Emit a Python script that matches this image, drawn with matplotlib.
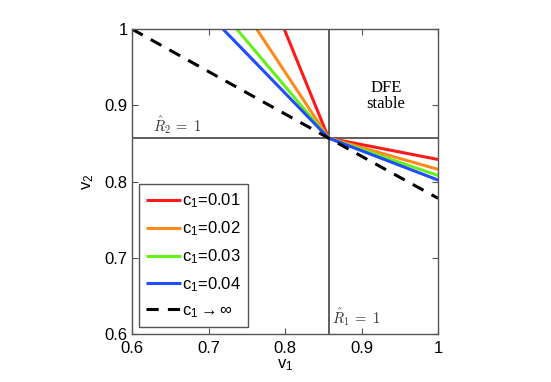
import matplotlib
matplotlib.use('Agg')
import matplotlib.pyplot as plt

plt.rcParams['font.family'] = ['Liberation Sans', 'DejaVu Sans']
plt.rcParams['mathtext.fontset'] = 'custom'
plt.rcParams['mathtext.rm'] = 'Liberation Sans'
plt.rcParams['mathtext.it'] = 'Liberation Sans'
plt.rcParams['mathtext.default'] = 'regular'

# threshold where R1_hat = 1 and R2_hat = 1
v_star = 0.857

labels = ['c$_1$=0.01', 'c$_1$=0.02', 'c$_1$=0.03', 'c$_1$=0.04', r'c$_1\rightarrow\infty$']
colors = ['#ff1a1a', '#ff8a1a', '#66f01a', '#1f4dff', 'black']
styles = ['-', '-', '-', '-', '--']

# each curve: (v1 at top edge, v2 at right edge), passing through (v_star, v_star)
v1_top = [0.799, 0.763, 0.737, 0.719, 0.600]
v2_right = [0.829, 0.816, 0.808, 0.802, 0.778]

fig = plt.figure(figsize=(5.51, 3.82), dpi=100)
ax = fig.add_axes([0.2396, 0.1257, 0.5554, 0.798])

ax.axvline(v_star, color='#333333', lw=1.1)
ax.axhline(v_star, color='#333333', lw=1.1)

for i in range(len(labels)):
    xs = [v1_top[i], v_star, 1.0]
    ys = [1.0, v_star, v2_right[i]]
    ax.plot(xs, ys, color=colors[i], ls=styles[i], lw=2.2, label=labels[i],
            dashes=(4, 3) if styles[i] == '--' else (None, None), solid_capstyle='butt')

ax.set_xlim(0.6, 1)
ax.set_ylim(0.6, 1)
ax.set_xticks([0.6, 0.7, 0.8, 0.9, 1])
ax.set_yticks([0.6, 0.7, 0.8, 0.9, 1])
ax.set_xticklabels(['0.6', '0.7', '0.8', '0.9', '1'])
ax.set_yticklabels(['0.6', '0.7', '0.8', '0.9', '1'])
ax.tick_params(direction='in', top=True, right=True, labelsize=12, length=4, width=0.8,
               colors='#555555', labelcolor='black', pad=3)
ax.tick_params(axis='x', pad=5)
for s in ax.spines.values():
    s.set_color('#555555')
    s.set_linewidth(1.0)

ax.set_xlabel('v$_1$', fontsize=12, labelpad=1)
ax.set_ylabel('v$_2$', fontsize=12, labelpad=6)

ax.text(0.932, 0.912, 'DFE\nstable', ha='center', va='center', fontsize=12,
        family='Liberation Serif', linespacing=1.0)
ax.text(0.628, 0.874, r'$\mathit{\hat{R}}_{\mathrm{2}}\;\mathrm{=}\;\mathrm{1}$', fontsize=10.5,
        math_fontfamily='cm', color='#333333', ha='left', va='center')
ax.text(0.862, 0.622, r'$\mathit{\hat{R}}_{\mathrm{1}}\;\mathrm{=}\;\mathrm{1}$', fontsize=10.5,
        math_fontfamily='cm', color='#333333', ha='left', va='center')

leg = ax.legend(loc='lower left', bbox_to_anchor=(0.0, 0.0), fontsize=12, fancybox=False,
                handlelength=2.1, handletextpad=0.05, labelspacing=0.55, borderpad=0.45,
                borderaxespad=0.4)
leg.get_frame().set_edgecolor('#555555')
leg.get_frame().set_linewidth(1.0)
leg.get_frame().set_alpha(1)

fig.savefig('out.png', dpi=100)
